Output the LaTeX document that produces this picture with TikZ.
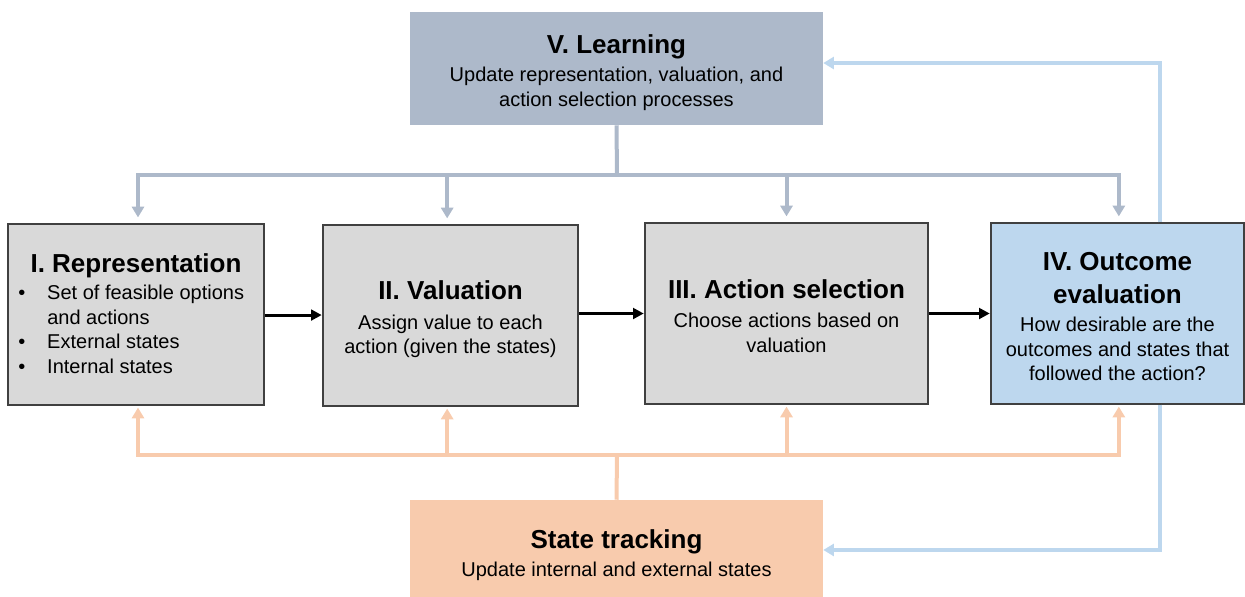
\documentclass[tikz,border=0pt]{standalone}
\usepackage{fontspec}
\setmainfont{Liberation Sans}
\usetikzlibrary{arrows.meta,calc}
\definecolor{learnc}{HTML}{ADB9CA}
\definecolor{grayc}{HTML}{D9D9D9}
\definecolor{bluec}{HTML}{BDD7EE}
\definecolor{orangec}{HTML}{F8CBAD}
\definecolor{edgec}{HTML}{404040}
\newcommand{\ttl}{\fontsize{19.5}{24.75}\selectfont\bfseries}
\newcommand{\bdy}{\fontsize{15}{18.4}\selectfont}
\tikzset{
  stagebox/.style={draw=edgec, line width=0.9pt, fill=grayc, minimum height=135.75pt, inner sep=0pt, align=center, font=\bdy},
  colbox/.style={draw=none, inner sep=0pt, align=center, font=\bdy},
  textonly/.style={inner sep=0pt, align=center, font=\bdy},
  flowarrow/.style={line width=2.2pt, -{Triangle[length=8pt,width=8pt]}, shorten >=0.5pt},
  learnline/.style={draw=learnc, line width=3pt},
  learnarrow/.style={learnline, -{Triangle[length=8pt,width=9pt]}, shorten >=4.5pt},
  orangeline/.style={draw=orangec, line width=3pt},
  orangearrow/.style={orangeline, -{Triangle[length=8pt,width=9pt]}, shorten >=1.5pt},
  blueline/.style={draw=bluec, line width=3pt, -{Triangle[length=8pt,width=9pt]}},
}
\begin{document}
\begin{tikzpicture}[x=0.75pt,y=-0.75pt]
\useasboundingbox (0,0) rectangle (1245,596);
% top and bottom boxes
\node[colbox, fill=learnc, minimum width=309.75pt, minimum height=84.75pt] (learn) at (616.5,68.5) {};
\node[textonly] (learntext) at (616.5,73)
  {{\ttl V. Learning}\\[2pt] {\fontsize{15}{19.5}\selectfont Update representation, valuation, and}\\[1pt] action selection processes};
\node[colbox, fill=orangec, minimum width=309.75pt, minimum height=72.75pt] (state) at (616.5,548.5) {};
\node[textonly] (statetext) at (616.5,555) {{\ttl State tracking}\\[3pt] Update internal and external states};
% stage boxes
\node[stagebox, minimum width=192pt] (rep) at (136,314.5) {};
\node[font=\ttl, inner sep=0pt] (reptitle) at (136,266) {I. Representation};
\node[anchor=north west, align=left, font=\bdy, inner sep=0pt] (replist) at (18,285)
  {\makebox[21.75pt][l]{\textbullet}Set of feasible options\\
   \makebox[21.75pt][l]{}and actions\\
   \makebox[21.75pt][l]{\textbullet}External states\\
   \makebox[21.75pt][l]{\textbullet}Internal states};
\node[stagebox, minimum width=191.25pt] (val) at (450.5,315.5) {};
\node[textonly] (valtext) at (450.5,319)
  {{\ttl II. Valuation}\\[4pt] Assign value to each\\ action (given the states)};
\node[stagebox, minimum width=212.25pt] (act) at (786.5,313.5) {};
\node[textonly] (acttext) at (786.5,316)
  {{\ttl III. Action selection}\\[4pt] Choose actions based on\\ valuation};
\node[stagebox, minimum width=189.75pt, fill=bluec] (outc) at (1117.5,313.5) {};
\node[textonly] (outtext) at (1117.5,316.5)
  {{\ttl IV. Outcome}\\[6.3pt]{\ttl evaluation}\\[3pt] How desirable are the\\ outcomes and states that\\ followed the action?};
% flow arrows
\draw[flowarrow] ([yshift=-0.4pt]rep.east) -- ([yshift=-0.4pt]rep.east -| val.west);
\draw[flowarrow] (act.west -| val.east) -- (act.west);
\draw[flowarrow] (act.east) -- (outc.west);
% learning distribution
\coordinate (lbus) at (617,175);
\draw[learnline] (learn.south) -- (lbus);
\draw[learnarrow] (lbus) -| ([xshift=1.5pt]rep.north);
\draw[learnarrow] (lbus) -| ([xshift=-2.5pt]val.north);
\draw[learnarrow] (lbus) -| (act.north);
\draw[learnarrow] (lbus) -| ([xshift=1pt]outc.north);
% state distribution
\coordinate (sbus) at (617,455);
\draw[orangeline] (state.north) -- (sbus);
\draw[orangearrow] (sbus) -| ([xshift=1.5pt]rep.south);
\draw[orangearrow] (sbus) -| ([xshift=-2.5pt]val.south);
\draw[orangearrow] (sbus) -| (act.south);
\draw[orangearrow] (sbus) -| ([xshift=1pt]outc.south);
% feedback loops
\draw[blueline] ([xshift=31.9pt]outc.north) |- ([yshift=4.1pt]learn.east);
\draw[blueline] ([xshift=31.9pt]outc.south) |- ([yshift=-1.1pt]state.east);
\end{tikzpicture}
\end{document}
